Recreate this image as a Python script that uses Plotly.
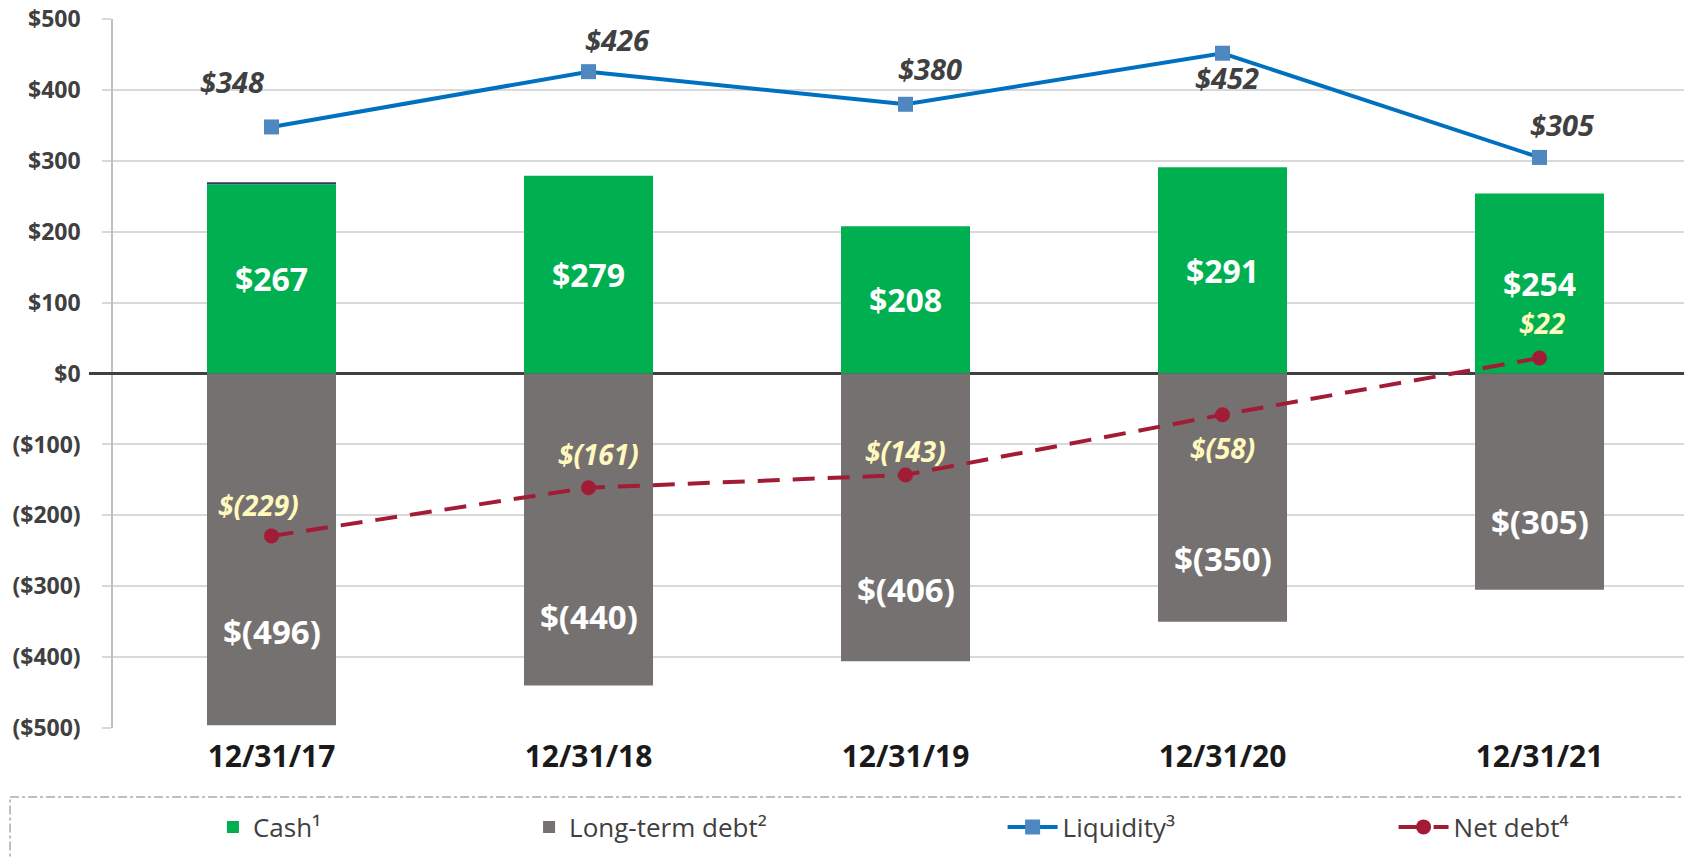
import plotly.graph_objects as go

# ---- data ----
categories = ["12/31/17", "12/31/18", "12/31/19", "12/31/20", "12/31/21"]
cash = [267, 279, 208, 291, 254]
other_cash = [3, 0, 0, 0, 0]          # thin dark segment on top of first bar
long_term_debt = [-496, -440, -406, -350, -305]
liquidity = [348, 426, 380, 452, 305]
net_debt = [-229, -161, -143, -58, 22]
y_tickvals = [500, 400, 300, 200, 100, 0, -100, -200, -300, -400, -500]
y_ticktext = ["$500", "$400", "$300", "$200", "$100", "$0",
              "($100)", "($200)", "($300)", "($400)", "($500)"]

# ---- styles ----
FONT = "Open Sans"
GREEN = "#00B050"
GRAY = "#767171"
BLUE_LINE = "#0070C0"
BLUE_MARK = "#4F87C0"
RED = "#A21C36"
TXT = "#404040"
PALE = "#FFF9BD"

xs = list(range(len(categories)))


def money(v):
    return f"${v}" if v >= 0 else f"$({-v})"


fig = go.Figure()

fig.add_trace(go.Bar(x=xs, y=cash, name="Cash¹", marker_color=GREEN,
                     marker_line_width=0, legend="legend",
                     text=[money(v) for v in cash], textposition="inside",
                     insidetextanchor="middle",
                     textfont=dict(family=FONT, size=32, color="white", weight="bold"),
                     hoverinfo="skip"))
fig.add_trace(go.Bar(x=xs, y=other_cash, name="other", marker_color="#2F3A66",
                     marker_line_width=0, showlegend=False, hoverinfo="skip"))
fig.add_trace(go.Bar(x=xs, y=long_term_debt, name="Long-term debt²", marker_color=GRAY,
                     marker_line_width=0, legend="legend2", hoverinfo="skip"))
fig.add_trace(go.Scatter(x=xs, y=liquidity, name="Liquidity³", mode="lines+markers",
                         line=dict(color=BLUE_LINE, width=4),
                         marker=dict(symbol="square", size=15, color=BLUE_MARK),
                         legend="legend3", hoverinfo="skip"))
fig.add_trace(go.Scatter(x=xs, y=net_debt, name="Net debt⁴", mode="lines+markers",
                         line=dict(color=RED, width=4, dash="22px,13px"),
                         marker=dict(symbol="circle", size=15, color=RED),
                         legend="legend4", hoverinfo="skip"))

# label offsets (pixels)
liq_shift = [(-40, 45), (29, 32), (24, 36), (4, -24), (22, 33)]
net_shift = [(-13, 31), (10, 34), (0, 24), (0, -33), (3, 35)]
debt_shift = [94, 69, 72, 63, 68]

annotations = []
for i, v in enumerate(liquidity):
    dx, dy = liq_shift[i]
    annotations.append(dict(x=xs[i], y=v, text=money(v), showarrow=False,
                            xshift=dx, yshift=dy,
                            font=dict(family=FONT, size=29, color=TXT,
                                      weight="bold", style="italic")))
for i, v in enumerate(net_debt):
    dx, dy = net_shift[i]
    annotations.append(dict(x=xs[i], y=v, text=money(v), showarrow=False,
                            xshift=dx, yshift=dy,
                            font=dict(family=FONT, size=28, color=PALE,
                                      weight="bold", style="italic")))
for i, v in enumerate(long_term_debt):
    annotations.append(dict(x=xs[i], y=v, text=money(v), showarrow=False,
                            yshift=debt_shift[i],
                            font=dict(family=FONT, size=33, color="white", weight="bold")))

legend_common = dict(orientation="h", yanchor="middle", y=-0.1396, xanchor="left",
                     bgcolor="rgba(0,0,0,0)", borderwidth=0,
                     font=dict(family=FONT, size=26, color=TXT))

fig.update_layout(
    width=1684, height=849,
    margin=dict(l=105, r=0, t=11, b=129, autoexpand=False),
    paper_bgcolor="white", plot_bgcolor="white",
    barmode="relative", bargap=0.593,
    font=dict(family=FONT, color=TXT),
    annotations=annotations,
    legend=dict(**legend_common, x=0.0633),
    legend2=dict(**legend_common, x=0.2635),
    legend3=dict(**legend_common, x=0.5634, itemwidth=50),
    legend4=dict(**legend_common, x=0.811, itemwidth=50),
    xaxis=dict(range=[-0.5, 4.481], tickvals=xs, ticktext=categories,
               showgrid=False, zeroline=False, showline=False, ticks="",
               automargin=False,
               ticklabelstandoff=8, ticklabeloverflow="allow",
               tickfont=dict(family=FONT, size=30, color="#1a1a1a", weight="bold")),
    yaxis=dict(range=[-500, 500.3], tickvals=y_tickvals, ticktext=y_ticktext,
               showgrid=True, gridcolor="#D9D9D9", gridwidth=1.5,
               zeroline=True, zerolinecolor="#404040", zerolinewidth=3,
               showline=True, linecolor="#BFBFBF", linewidth=1.5,
               ticks="outside", ticklen=9, tickcolor="#D9D9D9", tickwidth=1.5,
               automargin=False,
               ticklabelstandoff=17, ticklabeloverflow="allow",
               tickfont=dict(family=FONT, size=23, color=TXT, weight="bold")),
    shapes=[
        dict(type="line", xref="paper", yref="y domain", x0=-0.0152, x1=0,
             y0=0.5, y1=0.5, line=dict(color="#404040", width=3)),
        dict(type="rect", xref="paper", yref="paper",
             x0=-0.0652, x1=1.0, y0=-0.0973, y1=-0.2,
             line=dict(color="#7F7F7F", width=1, dash="dashdot")),
    ],
)

fig.write_html("out.html")
